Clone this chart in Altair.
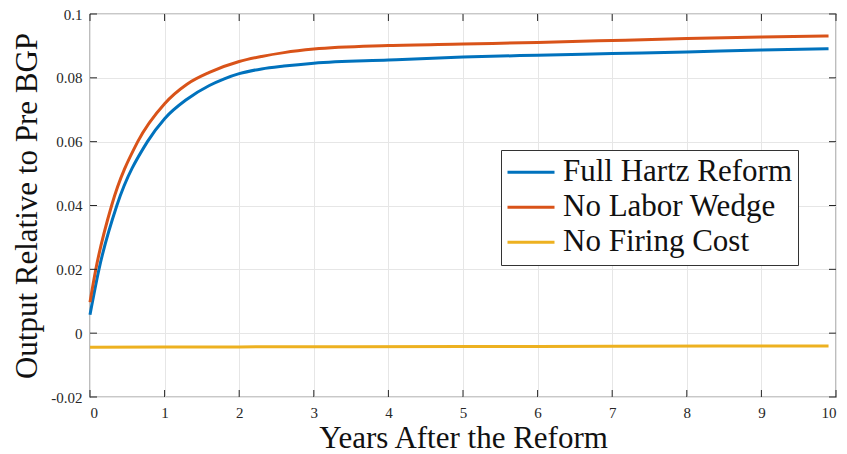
import altair as alt
import pandas as pd

# ---- data ----
t_blue = [0, 0.12, 0.36, 0.77, 1.0, 1.3, 1.6, 1.8, 2.0, 2.3, 2.6, 3, 4, 5, 6, 7, 8, 9, 9.9]
full_hartz = [0.0058, 0.0200, 0.0400, 0.0600, 0.0672, 0.0733, 0.0776, 0.0797, 0.0813, 0.0828,
              0.0837, 0.0846, 0.0856, 0.0865, 0.0871, 0.0876, 0.0881, 0.0887, 0.0891]
t_orange = [0, 0.078, 0.29, 0.64, 1.0, 1.3, 1.6, 2.0, 2.3, 2.6, 3, 4, 5, 6, 7, 8, 9, 9.9]
no_labor_wedge = [0.0097, 0.0200, 0.0400, 0.0600, 0.0719, 0.0780, 0.0817, 0.0851, 0.0867, 0.0879,
                  0.0890, 0.0901, 0.0906, 0.0911, 0.0917, 0.0923, 0.0928, 0.0931]
t_fc = [0, 2, 5, 7, 9.9]
no_firing_cost = [-0.0044, -0.0043, -0.0042, -0.0041, -0.0040]

series_names = ["Full Hartz Reform", "No Labor Wedge", "No Firing Cost"]
series_colors = ["#0072BD", "#D95319", "#EDB120"]
x_ticks = list(range(0, 11))
y_ticks = [-0.02, 0, 0.02, 0.04, 0.06, 0.08, 0.1]

rows = []
for tt, v in zip(t_blue, full_hartz):
    rows.append({"t": tt, "v": v, "s": series_names[0]})
for tt, v in zip(t_orange, no_labor_wedge):
    rows.append({"t": tt, "v": v, "s": series_names[1]})
for tt, v in zip(t_fc, no_firing_cost):
    rows.append({"t": tt, "v": v, "s": series_names[2]})
df = pd.DataFrame(rows)

W, H = 746, 383
FONT = "Liberation Serif"
AX = "#262626"

xscale = alt.Scale(domain=[0, 10], nice=False, zero=False)
yscale = alt.Scale(domain=[-0.02, 0.1], nice=False, zero=False)

lines = alt.Chart(df).mark_line(strokeWidth=3, interpolate="monotone").encode(
    x=alt.X("t:Q", scale=xscale,
            axis=alt.Axis(values=x_ticks, title="Years After the Reform", format="d",
                          labelFont=FONT, labelFontSize=15, labelColor=AX, labelPadding=8,
                          titleX=W / 2, titleY=50, titleBaseline="alphabetic")),
    y=alt.Y("v:Q", scale=yscale,
            axis=alt.Axis(values=y_ticks, title="Output Relative to Pre BGP",
                          labelExpr="toString(round(datum.value*100)/100)",
                          labelFont=FONT, labelFontSize=15, labelColor=AX, labelPadding=8,
                          titleX=-54, titleY=H / 2, titleBaseline="alphabetic",
                          titleAngle=-90, titleAlign="center")),
    color=alt.Color("s:N", scale=alt.Scale(domain=series_names, range=series_colors),
                    sort=series_names, legend=alt.Legend(title=None)),
    detail="s:N",
)

xt = pd.DataFrame({"x": x_ticks})
yt = pd.DataFrame({"y": y_ticks})
tick_style = dict(color=AX, strokeWidth=1)
xb = alt.Chart(xt).mark_rule(**tick_style).encode(x=alt.X("x:Q", scale=xscale), y=alt.value(H - 7), y2=alt.value(H))
xtp = alt.Chart(xt).mark_rule(**tick_style).encode(x=alt.X("x:Q", scale=xscale), y=alt.value(0), y2=alt.value(7))
yl = alt.Chart(yt).mark_rule(**tick_style).encode(y=alt.Y("y:Q", scale=yscale), x=alt.value(0), x2=alt.value(7))
yr = alt.Chart(yt).mark_rule(**tick_style).encode(y=alt.Y("y:Q", scale=yscale), x=alt.value(W - 7), x2=alt.value(W))

chart = alt.layer(lines, xb, xtp, yl, yr).properties(
    width=W, height=H, background="white",
    autosize=alt.AutoSizeParams(type="none"),
    padding={"left": 90, "top": 14, "right": 11, "bottom": 57},
).configure_view(
    stroke=AX, strokeWidth=1.2
).configure_axis(
    domain=False, ticks=False, grid=True, gridColor="#e6e6e6", gridWidth=1,
    labelFont=FONT, labelFontSize=15, labelColor=AX, labelPadding=8,
    titleFont=FONT, titleFontSize=31, titleFontWeight="normal", titleColor="#111111",
).configure_legend(
    orient="none", legendX=411, legendY=136,
    strokeColor="#333333", fillColor="white", padding=5,
    symbolType="stroke", symbolSize=2209, symbolStrokeWidth=3,
    labelFont=FONT, labelFontSize=31, labelColor="#111111", labelLimit=400,
    rowPadding=0, labelOffset=7, clipHeight=34.5,
)

chart.save("out.html", embed_options={"renderer": "svg", "actions": False})
